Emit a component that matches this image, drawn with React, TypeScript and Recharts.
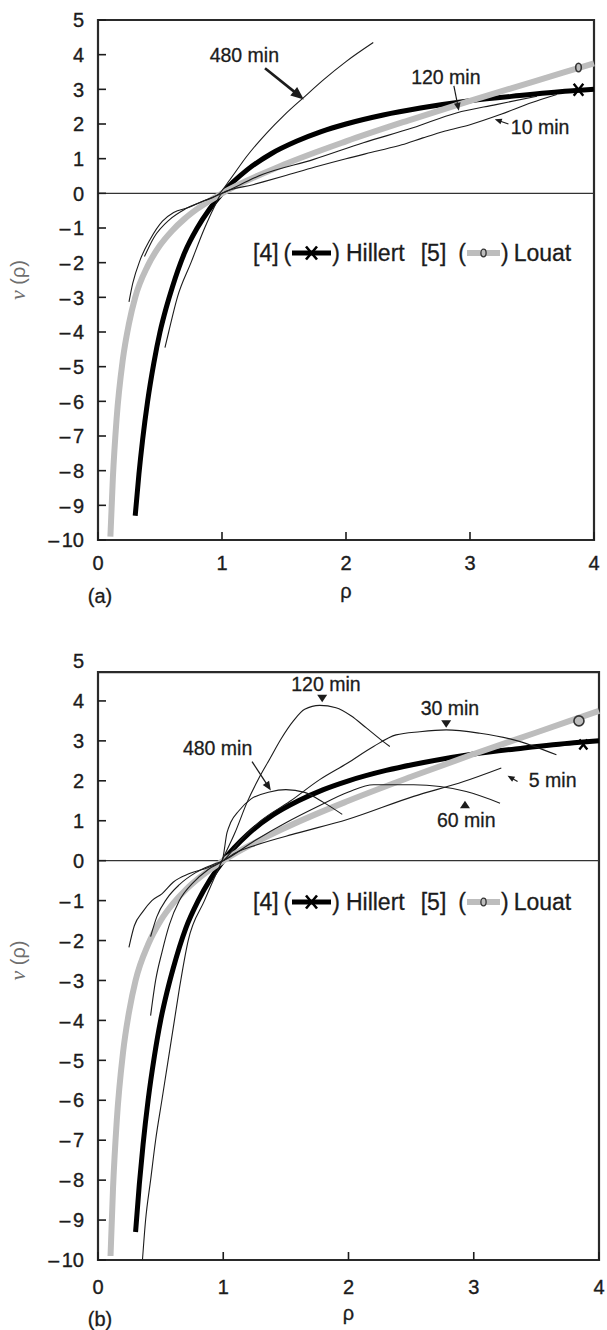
import React from 'react';
import {
  ComposedChart,
  Line,
  Scatter,
  XAxis,
  YAxis,
  ReferenceLine,
  ReferenceArea,
  ReferenceDot,
  Legend,
} from 'recharts';

type P = [number, number];
const pts = (a: P[]) => a.map(([x, y]) => ({ x, y }));

const FONT = '"Liberation Sans", Arial, Helvetica, sans-serif';
const SERIF = '"Liberation Serif", "DejaVu Serif", serif';
const INK = '#1c1c1c';
const GRAY = '#bdbdbd';

const X_TICKS = [0, 1, 2, 3, 4];
const Y_TICKS = [-10, -9, -8, -7, -6, -5, -4, -3, -2, -1, 0, 1, 2, 3, 4, 5];

// Theoretical curves (same in both panels)
const hillert: P[] = [
  [0.3, -9.3], [0.33, -8.1], [0.36, -7.1], [0.4, -6.0], [0.45, -4.9], [0.5, -4.0],
  [0.55, -3.3], [0.6, -2.7], [0.7, -1.7], [0.8, -1.0], [0.9, -0.45], [1.0, 0],
  [1.2, 0.67], [1.4, 1.15], [1.6, 1.5], [1.8, 1.78], [2.0, 2.0], [2.3, 2.26],
  [2.6, 2.46], [3.0, 2.67], [3.4, 2.82], [3.8, 2.95], [4.0, 3.0],
];
const louat: P[] = [
  [0.1, -9.9], [0.12, -8.2], [0.15, -6.5], [0.2, -4.8], [0.25, -3.75], [0.3, -3.0],
  [0.4, -2.1], [0.5, -1.5], [0.6, -1.07], [0.7, -0.73], [0.8, -0.45], [1.0, 0],
  [1.5, 0.83], [2.0, 1.5], [2.5, 2.1], [3.0, 2.67], [3.5, 3.21], [4.0, 3.75],
];

// Panel (a) experimental curves
const a480: P[] = [
  [0.25, -3.13], [0.28, -2.6], [0.34, -1.92], [0.42, -1.33], [0.52, -0.8], [0.61, -0.55],
  [0.73, -0.41], [0.86, -0.21], [0.98, 0], [1.065, 0.4], [1.2, 1.07], [1.36, 1.74],
  [1.5, 2.25], [1.66, 2.77], [1.82, 3.28], [2.0, 3.8], [2.22, 4.35],
];
const a120: P[] = [
  [0.375, -1.82], [0.45, -1.28], [0.58, -0.75], [0.7, -0.46], [0.86, -0.21], [1.0, 0],
  [1.33, 0.55], [1.74, 0.98], [2.14, 1.46], [2.54, 1.89], [2.89, 2.32], [3.21, 2.56], [3.54, 2.8],
];
const a10: P[] = [
  [0.54, -4.45], [0.57, -4.0], [0.64, -3.0], [0.75, -2.0], [0.86, -1.0], [0.93, -0.45], [1.0, 0],
  [1.25, 0.25], [1.5, 0.5], [1.75, 0.76], [2.0, 1.0], [2.25, 1.22], [2.45, 1.4], [2.62, 1.6],
  [2.8, 1.8], [3.0, 1.98], [3.25, 2.28], [3.5, 2.62], [3.7, 2.85],
];

// Panel (b) experimental curves
const b480: P[] = [
  [0.247, -2.17], [0.29, -1.63], [0.355, -1.29], [0.43, -1.0], [0.51, -0.83], [0.6, -0.54],
  [0.725, -0.33], [0.88, -0.17], [0.99, 0], [1.03, 0.7], [1.06, 0.96], [1.125, 1.25],
  [1.22, 1.54], [1.37, 1.72], [1.5, 1.78], [1.65, 1.71], [1.8, 1.46], [1.95, 1.16],
];
const b120: P[] = [
  [0.355, -10], [0.38, -9], [0.42, -8], [0.46, -7], [0.51, -6], [0.56, -5], [0.61, -4],
  [0.65, -3.2], [0.72, -2], [0.85, -1], [0.99, 0], [1.095, 0.71], [1.19, 1.46], [1.28, 2.04],
  [1.37, 2.54], [1.46, 3.04], [1.56, 3.5], [1.65, 3.79], [1.77, 3.89], [1.9, 3.83],
  [2.02, 3.63], [2.14, 3.33], [2.27, 3.0], [2.33, 2.86],
];
const b30: P[] = [
  [0.42, -3.88], [0.46, -3.0], [0.51, -2.3], [0.57, -1.6], [0.65, -1.0], [0.76, -0.55],
  [0.88, -0.22], [1.0, 0], [1.15, 0.55], [1.3, 1.0], [1.53, 1.48], [1.77, 2.03], [1.99, 2.44],
  [2.2, 2.86], [2.38, 3.15], [2.57, 3.23], [2.78, 3.275], [3.05, 3.19], [3.32, 3.025], [3.66, 2.65],
];
const b60: P[] = [
  [0.42, -1.9], [0.47, -1.4], [0.55, -0.95], [0.65, -0.6], [0.78, -0.3], [0.9, -0.12], [1.0, 0],
  [1.25, 0.5], [1.5, 0.95], [1.75, 1.35], [2.0, 1.72], [2.2, 1.9], [2.52, 1.9], [2.94, 1.73], [3.21, 1.44],
];
const b5: P[] = [
  [1.0, 0], [1.1, 0.2], [1.27, 0.4], [1.59, 0.69], [1.99, 1.03], [2.52, 1.61], [2.92, 1.98], [3.22, 2.32],
];

// Annotation labels [x, y, text]
type Lab = [number, number, string];
const labelsA: Lab[] = [[1.18, 3.99, '480 min'], [2.805, 3.36, '120 min'], [3.565, 1.92, '10 min']];
const labelsB: Lab[] = [
  [1.82, 4.42, '120 min'], [2.81, 3.81, '30 min'], [2.94, 1.02, '60 min'],
  [3.63, 2.025, '5 min'], [0.955, 2.82, '480 min'],
];
// Arrows [x1, y1, x2, y2, strokeWidth, headLength]
type Arr = [number, number, number, number, number, number];
const arrowsA: Arr[] = [
  [1.347, 3.61, 1.66, 2.71, 2.6, 13],
  [2.87, 3.1, 2.91, 2.38, 1.2, 8],
  [3.31, 2.0, 3.2, 2.135, 1.2, 7],
];
const arrowsB: Arr[] = [
  [1.23, 2.48, 1.38, 1.76, 1.3, 9],
  [3.35, 1.98, 3.27, 2.125, 1.2, 7],
];
// Triangle pointers [x, y, direction (1 = down, -1 = up)]
type Tri = [number, number, number];
const trisB: Tri[] = [[1.79, 4.07, 1], [2.78, 3.43, 1], [2.93, 1.4, -1]];

// Curve end markers
const hMarkA = [{ x: 3.875, y: 2.99 }];
const lMarkA = [{ x: 3.875, y: 3.63 }];
const hMarkB = [{ x: 3.875, y: 2.91 }];
const lMarkB = [{ x: 3.84, y: 3.5 }];

const TXT = { fontFamily: FONT, fill: INK, stroke: INK, strokeWidth: 0.35 };

const YTick = (props: any) => {
  const { x, y, payload, skip } = props;
  const v = payload.value;
  return (
    <g>
      {v !== skip && <line x1={x + 14} x2={x + 22} y1={y} y2={y} stroke={INK} strokeWidth={1.6} />}
      <text x={x} y={y} dy="0.36em" textAnchor="end" fontSize={20} {...TXT}>
        {v < 0 && <tspan fontFamily='"DejaVu Sans", sans-serif' fontSize={17}>{'\u2212'}</tspan>}
        <tspan dx={v < 0 ? 1 : 0}>{Math.abs(v)}</tspan>
      </text>
    </g>
  );
};

const XTick = (props: any) => {
  const { x, y, payload, base } = props;
  return (
    <g>
      <line x1={x} x2={x} y1={y - 16} y2={y - 24} stroke={INK} strokeWidth={1.6} />
      <text x={x} y={y + base} textAnchor="middle" fontSize={20} {...TXT}>
        {payload.value}
      </text>
    </g>
  );
};

const arrowShape = (w: number, head: number) => (p: any) => {
  const { x1, y1, x2, y2 } = p;
  const a = Math.atan2(y2 - y1, x2 - x1);
  const c = Math.cos(a);
  const s = Math.sin(a);
  const bx = x2 - head * c;
  const by = y2 - head * s;
  const hw = head * 0.42;
  return (
    <g>
      <line x1={x1} y1={y1} x2={bx + c} y2={by + s} stroke={INK} strokeWidth={w} />
      <polygon
        points={`${x2},${y2} ${bx - hw * s},${by + hw * c} ${bx + hw * s},${by - hw * c}`}
        fill={INK}
      />
    </g>
  );
};

const textShape = (t: string) => (p: any) => (
  <text x={p.cx} y={p.cy} dy="0.35em" textAnchor="middle" fontSize={19.5} {...TXT} strokeWidth={0.3}>
    {t}
  </text>
);

const triShape = (dir: number) => (p: any) => {
  const { cx, cy } = p;
  return (
    <polygon
      points={`${cx - 5},${cy - 3.5 * dir} ${cx + 5},${cy - 3.5 * dir} ${cx},${cy + 4 * dir}`}
      fill={INK}
    />
  );
};

const xMark = (size: number) => (p: any) => (
  <path
    d={`M${p.cx - size * 0.8} ${p.cy - size} L${p.cx + size * 0.8} ${p.cy + size} M${p.cx + size * 0.8} ${p.cy - size} L${p.cx - size * 0.8} ${p.cy + size}`}
    stroke="#000"
    strokeWidth={2.4}
  />
);
const oMark = (rx: number, ry: number) => (p: any) => (
  <ellipse cx={p.cx} cy={p.cy} rx={rx} ry={ry} fill={GRAY} stroke="#333" strokeWidth={1.6} />
);

const LegendBox = () => (
  <div
    style={{
      display: 'flex',
      alignItems: 'center',
      whiteSpace: 'nowrap',
      fontFamily: FONT,
      fontSize: 23,
      lineHeight: '26px',
      color: INK,
      WebkitTextStroke: '0.3px #1c1c1c',
    }}
  >
    <span>[4]</span>
    <span style={{ marginLeft: 5 }}>(</span>
    <svg width={39} height={16} style={{ marginLeft: 1 }}>
      <line x1={0} y1={8} x2={39} y2={8} stroke="#000" strokeWidth={5} />
      <path d="M14 1.5 L25 14.5 M25 1.5 L14 14.5" stroke="#000" strokeWidth={2.6} />
    </svg>
    <span style={{ marginLeft: 1 }}>)</span>
    <span style={{ marginLeft: 6 }}>Hillert</span>
    <span style={{ marginLeft: 16 }}>[5]</span>
    <span style={{ marginLeft: 12 }}>(</span>
    <svg width={33} height={16} style={{ marginLeft: 1 }}>
      <line x1={0} y1={8} x2={33} y2={8} stroke={GRAY} strokeWidth={6} />
      <ellipse cx={16.5} cy={8} rx={2.6} ry={3.8} fill={GRAY} stroke="#333" strokeWidth={1.3} />
    </svg>
    <span style={{ marginLeft: 1 }}>)</span>
    <span style={{ marginLeft: 5 }}>Louat</span>
  </div>
);

type PanelProps = {
  top: number;
  height: number;
  margin: { top: number; right: number; bottom: number; left: number };
  frameTop: number;
  skip: number;
  tickBase: number;
  tag: string;
  tagDy: number;
  rhoDy: number;
  curves: P[][];
  labels: Lab[];
  arrows: Arr[];
  tris: Tri[];
  hMark: { x: number; y: number }[];
  lMark: { x: number; y: number }[];
  hSize: number;
  oR: [number, number];
  legendTop: number;
};

function Panel(pp: PanelProps) {
  return (
    <div style={{ position: 'absolute', left: 0, top: pp.top, width: 607, height: pp.height }}>
      <ComposedChart width={607} height={pp.height} margin={pp.margin}>
        <XAxis
          type="number"
          dataKey="x"
          domain={[0, 4]}
          ticks={X_TICKS}
          interval={0}
          axisLine={false}
          tickLine={false}
          tickSize={0}
          tickMargin={16}
          height={30}
          tick={<XTick base={pp.tickBase} />}
          label={{
            content: (lp: any) => {
              const vb = lp.viewBox;
              return (
                <g fontSize={20} {...TXT} strokeWidth={0.3}>
                  <text x={vb.x + 2} y={vb.y + pp.tagDy} textAnchor="middle">
                    {pp.tag}
                  </text>
                  <text x={vb.x + vb.width / 2} y={vb.y + pp.rhoDy} textAnchor="middle">
                    ρ
                  </text>
                </g>
              );
            },
          }}
        />
        <YAxis
          type="number"
          dataKey="y"
          domain={[-10, 5]}
          ticks={Y_TICKS}
          interval={0}
          width={60}
          axisLine={false}
          tickLine={false}
          tickSize={0}
          tickMargin={14}
          tick={<YTick skip={pp.skip} />}
          label={{
            content: (lp: any) => {
              const vb = lp.viewBox;
              const cx = vb.x - 20;
              const cy = vb.y + vb.height / 2;
              return (
                <text
                  x={cx}
                  y={cy}
                  dy="0.35em"
                  textAnchor="middle"
                  transform={`rotate(-90 ${cx} ${cy})`}
                  fontSize={20}
                  fill="#6e6e6e"
                  fontFamily={FONT}
                >
                  <tspan fontFamily={SERIF} fontStyle="italic" fontSize={22}>v</tspan>
                  <tspan> (ρ)</tspan>
                </text>
              );
            },
          }}
        />
        <ReferenceArea x1={0} x2={4} y1={-10} y2={pp.frameTop} fill="none" stroke="#2a2a2a" strokeWidth={2.2} />
        <ReferenceLine y={0} stroke="#333" strokeWidth={1.2} />
        <Line data={pts(hillert)} dataKey="y" type="monotone" stroke="#000" strokeWidth={5} dot={false} activeDot={false} isAnimationActive={false} legendType="none" />
        <Line data={pts(louat)} dataKey="y" type="monotone" stroke={GRAY} strokeWidth={6} dot={false} activeDot={false} isAnimationActive={false} legendType="none" />
        {pp.curves.map((c, i) => (
          <Line key={i} data={pts(c)} dataKey="y" type="monotone" stroke={INK} strokeWidth={1.1} dot={false} activeDot={false} isAnimationActive={false} legendType="none" />
        ))}
        <Scatter data={pp.hMark} dataKey="y" shape={xMark(pp.hSize)} isAnimationActive={false} legendType="none" />
        <Scatter data={pp.lMark} dataKey="y" shape={oMark(pp.oR[0], pp.oR[1])} isAnimationActive={false} legendType="none" />
        {pp.arrows.map((a, i) => (
          <ReferenceLine
            key={'ar' + i}
            segment={[{ x: a[0], y: a[1] }, { x: a[2], y: a[3] }]}
            shape={arrowShape(a[4], a[5])}
          />
        ))}
        {pp.tris.map((t, i) => (
          <ReferenceDot key={'tr' + i} x={t[0]} y={t[1]} r={1} shape={triShape(t[2])} />
        ))}
        {pp.labels.map((l, i) => (
          <ReferenceDot key={'lb' + i} x={l[0]} y={l[1]} r={1} shape={textShape(l[2])} />
        ))}
        <Legend
          layout="horizontal"
          verticalAlign="middle"
          align="center"
          content={() => <LegendBox />}
          wrapperStyle={{ left: 253, top: pp.legendTop, width: 'auto', height: 26 }}
        />
      </ComposedChart>
    </div>
  );
}

export default function App() {
  return (
    <div style={{ position: 'absolute', left: 0, top: 0, width: 607, height: 1330, background: '#fff' }}>
      <Panel
        top={0}
        height={640}
        margin={{ top: 20, right: 13, bottom: 70, left: 38 }}
        frameTop={5}
        skip={NaN}
        tickBase={14}
        tag="(a)"
        tagDy={63}
        rhoDy={58}
        curves={[a480, a120, a10]}
        labels={labelsA}
        arrows={arrowsA}
        tris={[]}
        hMark={hMarkA}
        lMark={lMarkA}
        hSize={6}
        oR={[2.8, 4.2]}
        legendTop={240}
      />
      <Panel
        top={640}
        height={690}
        margin={{ top: 21, right: 8, bottom: 40, left: 38 }}
        frameTop={4.72}
        skip={5}
        tickBase={18}
        tag="(b)"
        tagDy={66}
        rhoDy={60}
        curves={[b480, b120, b30, b60, b5]}
        labels={labelsB}
        arrows={arrowsB}
        tris={trisB}
        hMark={hMarkB}
        lMark={lMarkB}
        hSize={5}
        oR={[5, 5]}
        legendTop={249}
      />
    </div>
  );
}
